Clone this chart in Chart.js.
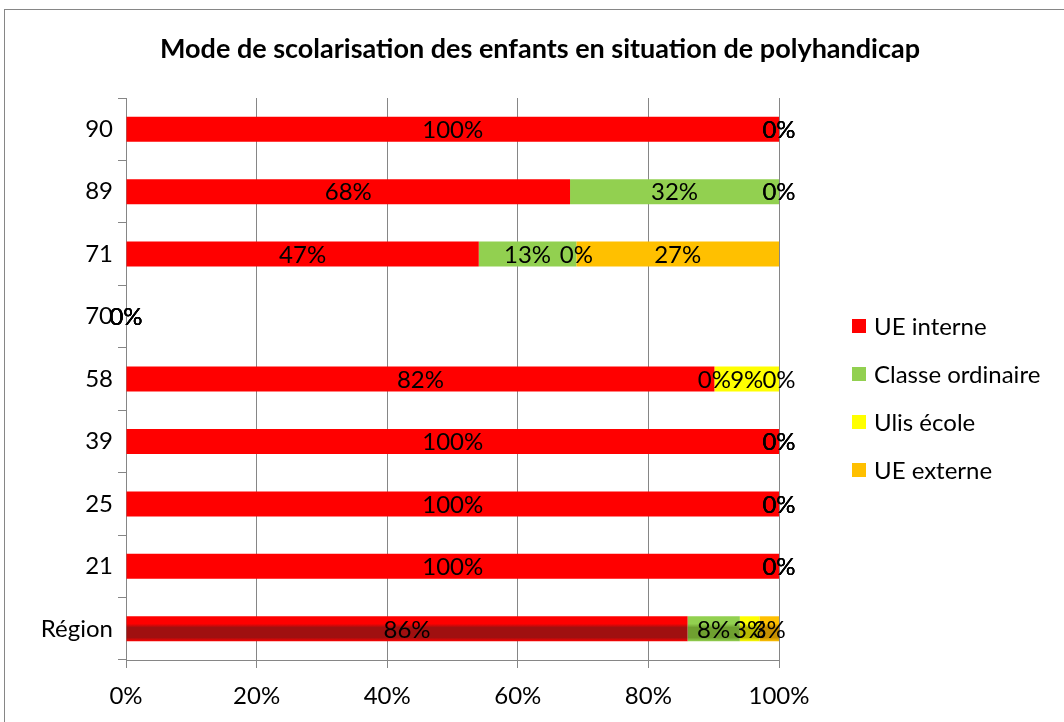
<!DOCTYPE html>
<html lang="fr">
<head>
    <meta charset="UTF-8">
    <title>Mode de scolarisation des enfants en situation de polyhandicap</title>
    <script src="https://cdn.jsdelivr.net/npm/chart.js"></script>
    <style>
        * { margin: 0; padding: 0; box-sizing: border-box; }
        body { background: white; width: 1064px; height: 722px; overflow: hidden; }
        #wrap { position: relative; width: 1064px; height: 722px; }
    </style>
</head>
<body>
    <div id="wrap"><canvas id="chart" width="1064" height="722"></canvas></div>

    <script>
        const categories = ['90', '89', '71', '70', '58', '39', '25', '21', 'Région'];
        const ueInterne = [100, 68, 47, 0, 82, 100, 100, 100, 86];
        const classeOrdinaire = [0, 32, 13, 0, 0, 0, 0, 0, 8];
        const ulisEcole = [0, 0, 0, 0, 9, 0, 0, 0, 3];
        const ueExterne = [0, 0, 27, 0, 0, 0, 0, 0, 3];
        const xTicks = [0, 20, 40, 60, 80, 100];

        const titleText = 'Mode de scolarisation des enfants en situation de polyhandicap';
        const seriesNames = ['UE interne', 'Classe ordinaire', 'Ulis école', 'UE externe'];
        const seriesValues = [ueInterne, classeOrdinaire, ulisEcole, ueExterne];
        const colors = ['#FF0000', '#92D050', '#FFFF00', '#FFC000'];
        const darkColors = ['#A01010', '#6FA030', '#B8B800', '#C89000'];
        const font = 'Lato, "Open Sans", sans-serif';
        const textSize = 24;

        // barres empilées à 100 % : part de chaque valeur dans le total de la ligne
        const totals = categories.map((c, i) => seriesValues.reduce((s, arr) => s + arr[i], 0));
        const share = arr => arr.map((v, i) => totals[i] ? v / totals[i] * 100 : 0);

        // dégradé "biseau" pour la barre Région
        function barColor(base, dark) {
            return function (ctx) {
                if (ctx.type !== 'data' || categories[ctx.dataIndex] !== 'Région') return base;
                const y = ctx.chart.scales.y;
                if (!y) return base;
                const cy = y.getPixelForValue(ctx.dataIndex);
                const g = ctx.chart.ctx.createLinearGradient(0, cy - 12.5, 0, cy + 12.5);
                g.addColorStop(0, base);
                g.addColorStop(0.3, base);
                g.addColorStop(0.45, dark);
                g.addColorStop(0.85, dark);
                g.addColorStop(1, base);
                return g;
            };
        }

        // étiquettes de données au centre de chaque segment
        const valueLabels = {
            id: 'valueLabels',
            afterDatasetsDraw(chart) {
                const ctx = chart.ctx;
                ctx.save();
                ctx.font = textSize + 'px ' + font;
                ctx.fillStyle = '#000';
                ctx.textAlign = 'center';
                ctx.textBaseline = 'middle';
                chart.data.datasets.forEach((ds, di) => {
                    chart.getDatasetMeta(di).data.forEach((el, i) => {
                        const cx = (el.x + el.base) / 2;
                        ctx.fillText(seriesValues[di][i] + '%', cx, el.y + 1);
                    });
                });
                ctx.restore();
            }
        };

        // titre centré sur tout le cadre, légende à droite et cadre
        const frame = {
            id: 'frame',
            afterDraw(chart) {
                const ctx = chart.ctx;
                ctx.save();
                ctx.fillStyle = '#000';
                ctx.textAlign = 'center';
                ctx.textBaseline = 'middle';
                ctx.font = 'bold 27px ' + font;
                ctx.fillText(titleText, 540, 49);

                ctx.font = textSize + 'px ' + font;
                ctx.textAlign = 'left';
                seriesNames.forEach((name, i) => {
                    const y = 326 + i * 48;
                    ctx.fillStyle = colors[i];
                    ctx.fillRect(852, y - 7, 14, 14);
                    ctx.fillStyle = '#000';
                    ctx.fillText(name, 874, y + 1);
                });
                ctx.strokeStyle = '#868686';
                ctx.lineWidth = 1;
                ctx.strokeRect(4.5, 9.5, 1100, 800);
                ctx.restore();
            }
        };

        new Chart(document.getElementById('chart'), {
            type: 'bar',
            data: {
                labels: categories,
                datasets: seriesNames.map((name, i) => ({
                    label: name,
                    data: share(seriesValues[i]),
                    backgroundColor: barColor(colors[i], darkColors[i]),
                    borderWidth: 0,
                    barPercentage: 0.4,
                    categoryPercentage: 1
                }))
            },
            options: {
                indexAxis: 'y',
                responsive: false,
                animation: false,
                layout: { padding: { top: 98, right: 285, bottom: 0, left: 0 } },
                scales: {
                    x: {
                        stacked: true,
                        min: 0,
                        max: 100,
                        afterBuildTicks: scale => { scale.ticks = xTicks.map(v => ({ value: v })); },
                        afterFit: scale => { scale.height = 62; },
                        grid: { color: '#868686', tickLength: 8 },
                        border: { color: '#868686' },
                        ticks: {
                            callback: v => v + '%',
                            color: '#000',
                            padding: 14,
                            font: { family: font, size: textSize }
                        }
                    },
                    y: {
                        stacked: true,
                        afterFit: scale => { scale.width = 126; },
                        grid: { drawOnChartArea: false, color: '#868686', tickLength: 8, offset: true },
                        border: { color: '#868686' },
                        ticks: {
                            color: '#000',
                            padding: 5,
                            font: { family: font, size: textSize }
                        }
                    }
                },
                plugins: {
                    legend: { display: false },
                    tooltip: { enabled: false },
                    title: { display: false }
                }
            },
            plugins: [valueLabels, frame]
        });
    </script>
</body>
</html>
